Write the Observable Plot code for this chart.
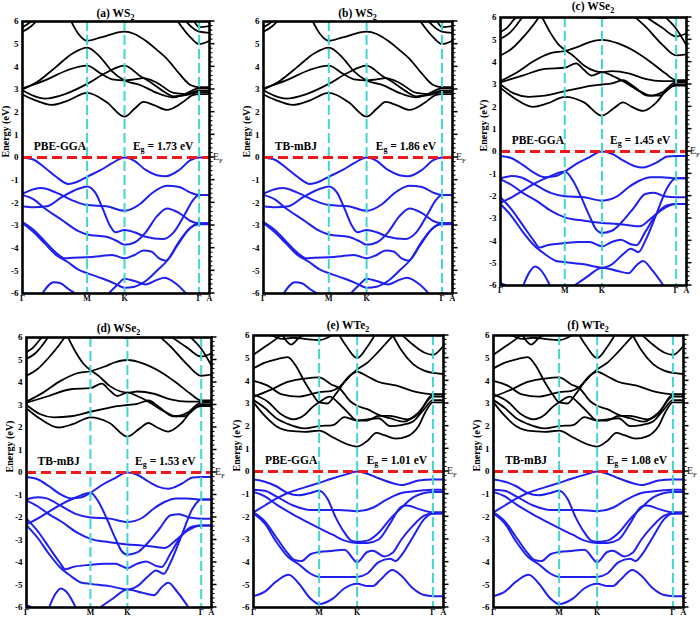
<!DOCTYPE html>
<html>
<head>
<meta charset="utf-8">
<script src="https://cdn.jsdelivr.net/npm/d3@7"></script>
<script src="https://cdn.jsdelivr.net/npm/@observablehq/plot@0.6"></script>
<style>
  body { margin: 0; background: #fff; }
  #root { position: relative; width: 700px; height: 619px; overflow: hidden; background: #fff; }
  #root svg { position: absolute; overflow: visible; max-width: none; }
</style>
</head>
<body>
<div id="root"></div>
<script>
// ---------- tick labels / k-path ----------
const kTickPositions = [0, 0.577, 0.911, 1.577, 1.67];
const kTickLabels = ["Γ", "M", "K", "Γ", "A"];
const symmetryLines = [0.577, 0.911, 1.577];
const energyTicks = [-6, -5, -4, -3, -2, -1, 0, 1, 2, 3, 4, 5, 6];

// ---------- panels ----------
const panelTitles = ["(a) WS2", "(b) WS2", "(c) WSe2", "(d) WSe2", "(e) WTe2", "(f) WTe2"];
const panelMethods = ["PBE-GGA", "TB-mBJ", "PBE-GGA", "TB-mBJ", "PBE-GGA", "TB-mBJ"];
const panelGaps = [1.73, 1.86, 1.45, 1.53, 1.01, 1.08];
const panelMaterial = ["WS2", "WS2", "WSe2", "WSe2", "WTe2", "WTe2"];

// ---------- WS2 bands [k, E(eV)] ----------
const ws2Conduction = [
  [[0,2.78],[0.1,2.55],[0.26,2.32],[0.4,2.5],[0.577,2.85],[0.75,2.45],[0.911,1.8],[1.0,2.15],[1.08,2.45],[1.18,2.3],[1.29,2.1],[1.42,2.4],[1.52,2.75],[1.577,2.8],[1.67,2.8]],
  [[0,2.97],[0.1,2.72],[0.2,2.6],[0.38,2.8],[0.577,3.25],[0.75,3.75],[0.911,4.05],[1.05,3.6],[1.15,3.3],[1.25,2.95],[1.35,2.7],[1.45,2.75],[1.577,2.88],[1.67,2.88]],
  [[0,3.05],[0.2,3.4],[0.4,3.85],[0.577,4.05],[0.7,3.7],[0.8,3.45],[0.911,3.4],[1.0,3.45],[1.08,3.5],[1.2,3.3],[1.35,2.85],[1.45,2.8],[1.577,2.95],[1.67,2.95]],
  [[0,3.0],[0.15,3.4],[0.3,4.0],[0.45,4.6],[0.577,4.85],[0.7,4.4],[0.8,3.8],[0.911,3.4],[1.05,3.2],[1.2,2.85],[1.35,2.65],[1.45,2.8],[1.577,3.05],[1.67,3.05]],
  [[0.43,6.05],[0.5,5.45],[0.577,5.15],[0.7,5.3],[0.911,5.55],[1.0,5.45],[1.1,5.15],[1.2,4.75],[1.3,4.3],[1.4,3.7],[1.5,3.2],[1.577,3.1],[1.67,3.1]],
  [[0,5.55],[0.08,5.8],[0.13,6.05]],
  [[0,5.75],[0.05,5.9],[0.09,6.05]],
  [[1.38,6.05],[1.5,5.3],[1.577,5.0],[1.67,5.15]],
  [[1.45,6.05],[1.577,5.55],[1.67,5.5]],
  [[1.53,6.05],[1.577,5.75],[1.67,5.8]]
];
const ws2Valence = [
  [[0,0],[0.1,-0.1],[0.2,-0.45],[0.3,-0.85],[0.41,-1.17],[0.5,-1.05],[0.577,-0.85],[0.7,-0.55],[0.8,-0.25],[0.911,0],[1.0,-0.15],[1.1,-0.55],[1.2,-0.78],[1.28,-0.83],[1.4,-0.55],[1.5,-0.12],[1.577,0],[1.67,0]],
  [[0,-1.6],[0.1,-1.4],[0.17,-1.35],[0.3,-1.55],[0.45,-1.9],[0.577,-2.1],[0.75,-2.15],[0.911,-2.35],[1.05,-2.05],[1.15,-1.6],[1.29,-1.25],[1.4,-1.3],[1.5,-1.55],[1.577,-1.65],[1.67,-1.65]],
  [[0,-1.65],[0.1,-1.85],[0.2,-2.25],[0.35,-2.75],[0.5,-3.25],[0.577,-3.4],[0.75,-3.5],[0.85,-3.7],[0.911,-3.85],[1.0,-3.75],[1.1,-3.3],[1.2,-2.6],[1.29,-2.25],[1.4,-2.45],[1.5,-2.8],[1.577,-2.9],[1.67,-2.9]],
  [[0,-2.15],[0.1,-2.2],[0.22,-2.15],[0.35,-1.75],[0.5,-1.38],[0.577,-1.28],[0.65,-1.55],[0.72,-2.3],[0.78,-3.0],[0.83,-3.3],[0.911,-3.2],[1.0,-3.3],[1.1,-3.5],[1.25,-3.6],[1.35,-3.3],[1.45,-2.5],[1.52,-1.9],[1.577,-1.65],[1.67,-1.65]],
  [[0,-2.85],[0.1,-3.2],[0.2,-3.7],[0.3,-4.2],[0.38,-4.45],[0.45,-4.42],[0.577,-4.4],[0.7,-4.35],[0.8,-4.3],[0.911,-4.45],[1.0,-4.3],[1.08,-4.1],[1.15,-4.15],[1.22,-4.45],[1.28,-4.55],[1.38,-3.9],[1.48,-3.2],[1.577,-2.9],[1.67,-2.9]],
  [[0,-2.9],[0.1,-3.3],[0.2,-3.8],[0.3,-4.3],[0.4,-4.6],[0.5,-4.95],[0.577,-5.1],[0.72,-5.35],[0.82,-5.55],[0.911,-5.75],[1.0,-5.7],[1.1,-5.45],[1.2,-5.0],[1.3,-4.5],[1.4,-3.7],[1.5,-3.1],[1.577,-2.95],[1.67,-2.95]],
  [[0.17,-6.05],[0.28,-5.5],[0.34,-5.55],[0.41,-5.8],[0.49,-6.05]],
  [[0.76,-6.05],[0.85,-5.6],[0.911,-5.35],[1.0,-5.45],[1.1,-5.6],[1.2,-5.4],[1.27,-5.3],[1.38,-5.6],[1.47,-6.05]]
];

// ---------- WSe2 bands ----------
const wse2Conduction = [
  [[0,2.85],[0.12,2.4],[0.29,2.0],[0.42,2.15],[0.577,2.45],[0.75,2.2],[0.911,1.6],[1.02,1.95],[1.1,2.2],[1.18,2.0],[1.28,1.82],[1.4,2.2],[1.5,2.8],[1.577,2.95],[1.67,2.95]],
  [[0,3.0],[0.12,2.6],[0.25,2.45],[0.4,2.5],[0.577,2.7],[0.72,2.85],[0.82,2.95],[0.911,3.0],[1.0,3.05],[1.1,3.2],[1.2,2.9],[1.32,2.5],[1.42,2.5],[1.577,3.0],[1.67,3.0]],
  [[0,3.1],[0.2,3.4],[0.4,3.7],[0.577,3.75],[0.68,3.95],[0.75,3.65],[0.82,3.4],[0.911,3.55],[1.0,3.4],[1.1,3.15],[1.25,2.7],[1.35,2.5],[1.45,2.65],[1.577,3.1],[1.67,3.1]],
  [[0,3.15],[0.15,3.55],[0.3,4.05],[0.45,4.4],[0.577,4.5],[0.7,4.7],[0.8,4.9],[0.911,5.0],[1.05,4.85],[1.2,4.5],[1.35,4.0],[1.48,3.5],[1.577,3.2],[1.67,3.2]],
  [[0.37,6.05],[0.45,5.3],[0.52,4.8],[0.577,4.55],[0.65,4.3],[0.75,3.85],[0.85,3.6],[0.911,3.55],[1.0,3.6],[1.15,3.5],[1.3,3.25],[1.45,3.15],[1.577,3.15],[1.67,3.15]],
  [[0,4.3],[0.1,4.6],[0.2,5.1],[0.3,5.7],[0.35,6.05]],
  [[0,5.05],[0.08,5.3],[0.15,5.7],[0.2,6.05]],
  [[0,5.35],[0.06,5.55],[0.12,5.9],[0.15,6.05]],
  [[0.85,6.05],[0.911,5.97],[0.98,6.05]],
  [[1.2,6.05],[1.3,5.6],[1.45,4.8],[1.577,4.3],[1.67,4.35]],
  [[1.3,6.05],[1.45,5.55],[1.577,5.15],[1.67,5.3]],
  [[1.47,6.05],[1.577,5.5],[1.67,4.75]]
];
const wse2Valence = [
  [[0,-0.2],[0.1,-0.3],[0.2,-0.6],[0.3,-0.95],[0.4,-1.15],[0.5,-1.1],[0.577,-0.9],[0.7,-0.5],[0.8,-0.25],[0.87,-0.05],[0.911,0],[1.0,-0.1],[1.1,-0.4],[1.2,-0.65],[1.28,-0.72],[1.4,-0.5],[1.5,-0.22],[1.577,-0.2],[1.67,-0.2]],
  [[0,-2.3],[0.1,-2.05],[0.2,-1.75],[0.3,-1.45],[0.45,-1.1],[0.577,-0.9],[0.65,-1.3],[0.72,-2.0],[0.8,-2.9],[0.86,-3.5],[0.911,-3.65],[1.0,-3.55],[1.1,-3.1],[1.2,-2.5],[1.3,-1.9],[1.38,-1.85],[1.47,-2.0],[1.577,-2.05],[1.67,-2.05]],
  [[0,-1.2],[0.1,-1.1],[0.18,-1.15],[0.3,-1.45],[0.45,-1.85],[0.577,-2.0],[0.75,-2.05],[0.911,-2.2],[1.05,-2.0],[1.15,-1.6],[1.25,-1.3],[1.35,-1.15],[1.45,-1.15],[1.577,-1.2],[1.67,-1.2]],
  [[0,-1.25],[0.1,-1.5],[0.2,-1.85],[0.32,-2.2],[0.45,-2.65],[0.577,-2.95],[0.75,-3.1],[0.911,-3.2],[1.05,-3.25],[1.15,-3.3],[1.25,-3.35],[1.35,-3.0],[1.45,-2.6],[1.577,-2.35],[1.67,-2.35]],
  [[0,-2.05],[0.1,-2.6],[0.2,-3.3],[0.3,-4.0],[0.35,-4.3],[0.42,-4.2],[0.577,-4.1],[0.7,-4.05],[0.8,-4.05],[0.911,-4.25],[1.0,-4.05],[1.08,-3.95],[1.17,-4.15],[1.22,-4.2],[1.3,-3.6],[1.4,-2.8],[1.5,-2.4],[1.577,-2.35],[1.67,-2.35]],
  [[0,-2.35],[0.1,-2.9],[0.2,-3.6],[0.3,-4.2],[0.4,-4.6],[0.5,-4.9],[0.577,-4.95],[0.75,-5.05],[0.911,-5.2],[1.0,-5.05],[1.1,-4.6],[1.17,-4.35],[1.24,-4.5],[1.3,-4.0],[1.4,-2.8],[1.5,-1.6],[1.577,-1.2],[1.67,-1.2]],
  [[0.2,-6.05],[0.26,-5.4],[0.31,-5.15],[0.36,-5.3],[0.45,-6.05]],
  [[0.65,-6.05],[0.78,-5.6],[0.911,-5.2],[1.05,-5.35],[1.15,-5.45],[1.22,-5.1],[1.28,-4.9],[1.36,-5.3],[1.47,-6.05]],
  [[0,-5.9],[0.08,-6.05]]
];

// ---------- WTe2 bands ----------
const wte2Conduction = [
  [[0,3.05],[0.1,2.45],[0.2,2.0],[0.3,1.8],[0.45,1.75],[0.577,1.8],[0.7,1.5],[0.8,1.25],[0.911,1.1],[1.0,1.35],[1.08,1.7],[1.15,1.6],[1.25,1.45],[1.35,1.55],[1.45,2.0],[1.52,2.7],[1.577,3.05],[1.67,3.05]],
  [[0,3.15],[0.1,2.8],[0.2,2.35],[0.3,2.1],[0.45,1.9],[0.577,2.0],[0.7,2.05],[0.8,2.4],[0.911,2.25],[1.0,2.3],[1.1,2.35],[1.2,2.0],[1.3,2.05],[1.4,2.2],[1.5,2.75],[1.577,3.15],[1.67,3.15]],
  [[0,3.3],[0.15,3.6],[0.3,3.95],[0.45,4.1],[0.577,4.15],[0.68,3.85],[0.76,3.65],[0.85,3.1],[0.911,2.9],[1.0,2.75],[1.1,2.5],[1.2,2.35],[1.32,2.2],[1.45,2.6],[1.577,3.3],[1.67,3.3]],
  [[0,4.0],[0.12,3.8],[0.25,3.4],[0.4,3.3],[0.5,3.4],[0.577,3.5],[0.68,3.55],[0.76,3.75],[0.85,4.25],[0.911,4.4],[1.0,4.2],[1.1,3.95],[1.25,3.8],[1.4,3.55],[1.5,3.45],[1.577,3.4],[1.67,3.4]],
  [[0,3.4],[0.12,3.1],[0.25,2.5],[0.35,2.3],[0.45,2.5],[0.52,2.85],[0.577,3.05],[0.67,3.3],[0.75,3.0],[0.83,2.6],[0.911,2.25],[1.0,2.25],[1.1,2.45],[1.2,2.45],[1.35,2.3],[1.45,2.55],[1.577,3.4],[1.67,3.4]],
  [[0,4.55],[0.1,4.8],[0.2,4.95],[0.3,5.05],[0.38,4.6],[0.45,3.95],[0.52,3.4],[0.577,3.05],[0.65,3.0],[0.72,3.4],[0.8,3.95],[0.911,4.5],[1.0,4.8],[1.1,5.3],[1.2,5.85],[1.24,6.05]],
  [[0,5.15],[0.1,5.5],[0.2,5.85],[0.25,6.05]],
  [[0.75,6.05],[0.82,5.5],[0.911,5.0],[1.0,5.5],[1.07,6.05]],
  [[1.22,6.05],[1.3,5.35],[1.4,4.75],[1.5,4.45],[1.577,4.35],[1.67,4.3]],
  [[1.3,6.05],[1.4,5.6],[1.5,5.25],[1.577,5.15],[1.67,5.55]],
  [[0.15,6.05],[0.25,5.85],[0.35,5.9],[0.45,5.85],[0.577,5.8],[0.65,5.9],[0.7,6.05]],
  [[0.25,6.05],[0.33,5.6],[0.4,5.9],[0.45,6.05]]
];
const wte2Valence = [
  [[0,-1.8],[0.1,-1.5],[0.2,-1.2],[0.3,-0.95],[0.45,-0.7],[0.577,-0.5],[0.7,-0.3],[0.8,-0.15],[0.911,0],[1.0,-0.1],[1.1,-0.3],[1.25,-0.55],[1.3,-0.6],[1.45,-0.4],[1.577,-0.35],[1.67,-0.35]],
  [[0,-0.35],[0.1,-0.45],[0.2,-0.65],[0.3,-0.95],[0.4,-1.05],[0.5,-0.95],[0.577,-0.85],[0.65,-1.2],[0.72,-2.0],[0.8,-2.7],[0.86,-3.05],[0.911,-3.1],[1.0,-3.05],[1.1,-2.7],[1.2,-2.1],[1.3,-1.6],[1.4,-1.15],[1.5,-0.95],[1.577,-0.9],[1.67,-0.9]],
  [[0,-0.8],[0.1,-0.85],[0.2,-1.1],[0.35,-1.5],[0.5,-1.7],[0.577,-1.7],[0.75,-1.7],[0.911,-1.75],[1.05,-1.6],[1.15,-1.3],[1.3,-0.95],[1.45,-0.85],[1.577,-0.8],[1.67,-0.8]],
  [[0,-0.9],[0.1,-1.1],[0.2,-1.45],[0.35,-1.9],[0.5,-2.3],[0.577,-2.5],[0.7,-2.8],[0.8,-3.05],[0.911,-3.15],[1.0,-3.15],[1.1,-3.0],[1.2,-2.3],[1.3,-1.55],[1.35,-1.5],[1.45,-1.65],[1.577,-1.8],[1.67,-1.8]],
  [[0,-1.8],[0.1,-2.2],[0.2,-2.9],[0.3,-3.6],[0.36,-3.9],[0.42,-3.95],[0.5,-3.65],[0.577,-3.55],[0.7,-3.5],[0.8,-3.45],[0.911,-4.0],[1.0,-3.55],[1.05,-3.5],[1.15,-3.75],[1.22,-3.6],[1.3,-3.0],[1.4,-2.4],[1.5,-1.95],[1.577,-1.85],[1.67,-1.85]],
  [[0,-1.85],[0.1,-2.3],[0.2,-3.1],[0.3,-3.75],[0.4,-4.1],[0.5,-4.5],[0.577,-4.65],[0.75,-4.65],[0.911,-4.65],[1.0,-4.5],[1.1,-4.0],[1.2,-3.85],[1.25,-3.95],[1.3,-3.7],[1.4,-2.9],[1.5,-2.1],[1.577,-1.85],[1.67,-1.85]],
  [[0,-5.5],[0.1,-5.3],[0.2,-4.85],[0.31,-4.55],[0.4,-4.95],[0.5,-5.6],[0.577,-5.85],[0.7,-5.6],[0.8,-5.15],[0.911,-4.95],[1.0,-5.05],[1.05,-5.05],[1.12,-4.75],[1.22,-4.35],[1.3,-4.6],[1.4,-5.15],[1.5,-5.45],[1.577,-5.5],[1.67,-5.5]]
];

const materials = {
  WS2: {cond: ws2Conduction, val: ws2Valence},
  WSe2: {cond: wse2Conduction, val: wse2Valence},
  WTe2: {cond: wte2Conduction, val: wte2Valence}
};

// ---------- layout (frame boxes, px) ----------
const layout = [
  {L: 22,  T: 21,  R: 209, B: 293, ty: 13},
  {L: 263, T: 21,  R: 452, B: 293, ty: 13},
  {L: 500, T: 17,  R: 686, B: 285, ty: 6},
  {L: 26,  T: 337, R: 211, B: 607, ty: 328},
  {L: 253, T: 335, R: 443, B: 607, ty: 325},
  {L: 493, T: 335, R: 683, B: 607, ty: 325}
];

const SERIF = "'Liberation Serif', 'Times New Roman', 'DejaVu Serif', serif";
const BLUE = "#1f1fee";
const CYAN = "#3fd7cf";
const RED = "#f01818";
const mL = 36, mR = 26, mT = 26, mB = 16;

function toRows(bands) {
  return bands.flatMap((band, j) => band.map(([k, e]) => ({band: j, k, e})));
}

const root = document.getElementById("root");
const minorTicks = d3.range(-60, 61, 2).map(v => v / 10);

layout.forEach((box, i) => {
  const mat = materials[panelMaterial[i]];
  const cRows = toRows(mat.cond);
  const vRows = toRows(mat.val);

  const svg = Plot.plot({
    width: box.R - box.L + mL + mR,
    height: box.B - box.T + mT + mB,
    marginLeft: mL, marginRight: mR, marginTop: mT, marginBottom: mB,
    x: {domain: [0, 1.67]},
    y: {domain: [-6, 6]},
    style: {fontFamily: SERIF, background: "transparent", overflow: "visible"},
    marks: [
      Plot.line(cRows, {x: "k", y: "e", z: "band", stroke: "#000", strokeWidth: 1.8, curve: "monotone-x", clip: true}),
      Plot.line(vRows, {x: "k", y: "e", z: "band", stroke: BLUE, strokeWidth: 2, curve: "monotone-x", clip: true}),
      Plot.ruleX(symmetryLines, {stroke: CYAN, strokeWidth: 2, strokeDasharray: "10,4"}),
      Plot.ruleY([0], {stroke: RED, strokeWidth: 3, strokeDasharray: "10,5"}),
      Plot.axisY({anchor: "left", ticks: energyTicks, tickSize: 0, tickPadding: 4, fontSize: 9, fontWeight: "bold", tickFormat: d => String(d), label: null}),
      Plot.axisX({ticks: kTickPositions, tickSize: 0, tickPadding: 2, fontSize: 8, fontWeight: "bold",
                  tickFormat: d => kTickLabels[kTickPositions.indexOf(d)], label: null}),
      Plot.text(["Energy (eV)"], {frameAnchor: "left", dx: -17, rotate: -90, fontSize: 10, fontWeight: "bold"}),
      Plot.text([panelMethods[i]], {x: 0.1, y: 0.5, textAnchor: "start", fontSize: 11.5, fontWeight: "bold"}),
      Plot.frame({stroke: "#000", strokeWidth: 2.6})
    ]
  });

  const ox = box.L - mL, oy = box.T - mT;
  svg.style.left = ox + "px";
  svg.style.top = oy + "px";
  root.appendChild(svg);

  const xs = svg.scale("x"), ys = svg.scale("y");
  const s = d3.select(svg);
  const xRight = xs.apply(1.67);

  // right-hand tick comb (minor every 0.2 eV, major every 1 eV), placed with the y scale
  s.append("g").attr("stroke", "#000")
    .selectAll("line").data(minorTicks).join("line")
    .attr("x1", xRight).attr("x2", d => xRight + (Number.isInteger(d) ? 5.5 : 3.5))
    .attr("y1", d => ys.apply(d)).attr("y2", d => ys.apply(d))
    .attr("stroke-width", d => Number.isInteger(d) ? 1.5 : 1.1);

  // title with subscript digit
  const title = panelTitles[i];
  const t = s.append("text")
    .attr("x", (box.L + box.R) / 2 - ox).attr("y", box.ty - oy + 4)
    .attr("text-anchor", "middle").attr("font-family", SERIF)
    .attr("font-size", 11.5).attr("font-weight", "bold").attr("fill", "#000");
  t.append("tspan").text(title.slice(0, -1));
  t.append("tspan").attr("font-size", 8).attr("dy", 2.5).text(title.slice(-1));

  // band gap label
  const g = s.append("text")
    .attr("x", xs.apply(1.53)).attr("y", ys.apply(0.5) + 4)
    .attr("text-anchor", "end").attr("font-family", SERIF)
    .attr("font-size", 11.5).attr("font-weight", "bold").attr("fill", "#000");
  g.append("tspan").text("E");
  g.append("tspan").attr("font-size", 8).attr("dy", 2.5).text("g");
  g.append("tspan").attr("dy", -2.5).text(" = " + panelGaps[i].toFixed(2) + " eV");

  // Fermi level label
  const f = s.append("text")
    .attr("x", xRight + 4).attr("y", ys.apply(0) + 3)
    .attr("text-anchor", "start").attr("font-family", SERIF)
    .attr("font-size", 10).attr("font-weight", "normal").attr("fill", "#222");
  f.append("tspan").text("E");
  f.append("tspan").attr("font-size", 7).attr("dy", 3).text("F");
});
</script>
</body>
</html>
